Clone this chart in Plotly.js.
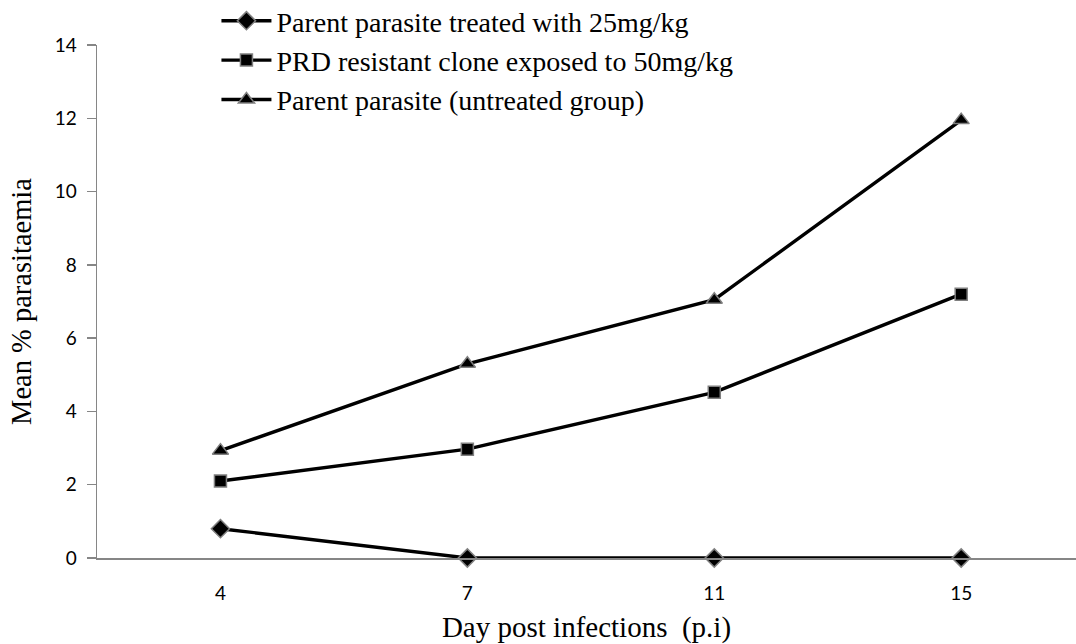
<!DOCTYPE html>
<html>
<head>
<meta charset="utf-8">
<script src="https://cdn.plot.ly/plotly-3.0.1.min.js"></script>
<style>
  html, body { margin: 0; padding: 0; background: #ffffff; overflow: hidden; }
  #chart { width: 1076px; height: 644px; }
</style>
</head>
<body>
<div id="chart"></div>
<script>
// Days post infection (category axis)
const days = ['4', '7', '11', '15'];

// Mean % parasitaemia per group
const parentTreated25 = [0.8, 0, 0, 0];
const prdResistant50 = [2.1, 2.97, 4.52, 7.2];
const parentUntreated = [2.93, 5.3, 7.05, 11.95];

const seriesNames = [
  'Parent parasite treated with 25mg/kg',
  'PRD resistant clone exposed to 50mg/kg',
  'Parent parasite (untreated group)'
];

const yTicks = [0, 2, 4, 6, 8, 10, 12, 14];

const serif = 'Liberation Serif, Times New Roman, serif';
const sans = 'Lato, Open Sans, sans-serif';
const axisGray = '#868686';

function lineTrace(values, name, symbol, size) {
  return {
    x: days,
    y: values,
    name: name,
    type: 'scatter',
    mode: 'lines+markers',
    cliponaxis: false,
    line: { color: '#000000', width: 3.4 },
    marker: {
      symbol: symbol,
      size: size,
      color: '#000000',
      line: { color: '#7f7f7f', width: 1.5 }
    }
  };
}

const data = [
  lineTrace(parentTreated25, seriesNames[0], 'diamond', 14),
  lineTrace(prdResistant50, seriesNames[1], 'square', 12),
  lineTrace(parentUntreated, seriesNames[2], 'triangle-up', 14)
];

const layout = {
  width: 1076,
  height: 644,
  margin: { l: 97, r: 0, t: 45, b: 86, pad: 0, autoexpand: false },
  paper_bgcolor: '#ffffff',
  plot_bgcolor: '#ffffff',
  showlegend: true,
  legend: {
    x: 0.122,
    y: 1.0955,
    xanchor: 'left',
    yanchor: 'top',
    bgcolor: 'rgba(0,0,0,0)',
    font: { family: serif, size: 28, color: '#000000' },
    itemwidth: 50,
    tracegroupgap: 0
  },
  xaxis: {
    type: 'category',
    range: [-0.5, 3.465],
    showgrid: false,
    zeroline: false,
    showline: true,
    linecolor: axisGray,
    linewidth: 1.5,
    ticks: '',
    tickfont: { family: sans, size: 19, color: '#000000' },
    ticklabelstandoff: 18,
    title: {
      text: 'Day post infections&nbsp;&nbsp;(p.i)',
      font: { family: serif, size: 29, color: '#000000' },
      standoff: 16
    },
    fixedrange: true
  },
  yaxis: {
    range: [0, 14],
    tickvals: yTicks,
    ticktext: yTicks.map(String),
    showgrid: false,
    zeroline: false,
    showline: true,
    linecolor: axisGray,
    linewidth: 1.5,
    ticks: 'outside',
    ticklen: 9,
    tickwidth: 1.5,
    tickcolor: axisGray,
    tickfont: { family: sans, size: 19, color: '#000000' },
    ticklabelstandoff: 6,
    title: {
      text: 'Mean % parasitaemia',
      font: { family: serif, size: 28.5, color: '#000000' },
      standoff: 14
    },
    fixedrange: true
  }
};

Plotly.newPlot('chart', data, layout, { displayModeBar: false, staticPlot: true });
</script>
</body>
</html>
